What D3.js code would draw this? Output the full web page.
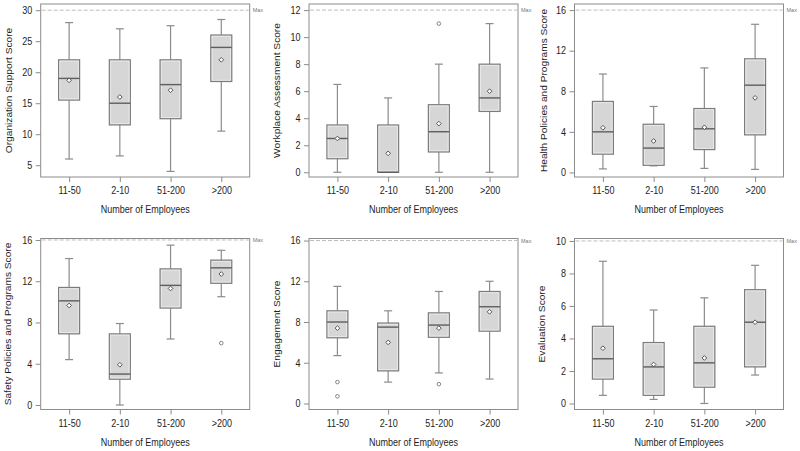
<!DOCTYPE html>
<html>
<head>
<meta charset="utf-8">
<script src="https://cdn.jsdelivr.net/npm/d3@7"></script>
<style>
  body { margin: 0; background: #fff; }
  svg { display: block; font-family: "Liberation Sans", Arial, sans-serif; }
</style>
</head>
<body>
<svg id="chart" width="800" height="451"></svg>
<script>
// categories on every x axis
var categories = ["11-50", "2-10", "51-200", ">200"];

var titles = [
  "Organization Support Score", "Workplace Assessment Score", "Health Policies and Programs Score",
  "Safety Policies and Programs Score", "Engagement Score", "Evaluation Score"
];
var maxScores = [30, 12, 16, 16, 16, 10];
var yTicks = [
  [5, 10, 15, 20, 25, 30],
  [0, 2, 4, 6, 8, 10, 12],
  [0, 4, 8, 12, 16],
  [0, 4, 8, 12, 16],
  [0, 4, 8, 12, 16],
  [0, 2, 4, 6, 8, 10]
];

// [whisker low, q1, median, q3, whisker high, mean] per category
var orgSupport   = [[6, 15.5, 19, 22, 28, 18.7], [6.5, 11.5, 15, 22, 27, 16], [4, 12.5, 18, 22, 27.5, 17.1], [10.5, 18.5, 24, 26, 28.5, 22]];
var workplace    = [[0, 1, 2.5, 3.5, 6.5, 2.5], [0, 0, 0, 3.5, 5.5, 1.4], [0, 1.5, 3, 5, 8, 3.6], [0, 4.5, 5.5, 8, 11, 6]];
var healthPol    = [[0.35, 1.8, 4, 7, 9.7, 4.4], [0.65, 0.7, 2.4, 4.75, 6.5, 3.1], [0.4, 2.25, 4.3, 6.3, 10.3, 4.45], [0.3, 3.7, 8.6, 11.2, 14.6, 7.35]];
var safetyPol    = [[4.4, 6.9, 10.1, 11.4, 14.2, 9.65], [0, 2.5, 3, 6.9, 7.9, 3.9], [6.4, 9.4, 11.6, 13.2, 15.5, 11.3], [10.5, 11.8, 13.3, 14.05, 15, 12.7]];
var engagement   = [[4.7, 6.45, 8, 9.1, 11.5, 7.4], [2.1, 3.2, 7.5, 7.9, 9.1, 6], [3, 6.5, 7.7, 8.9, 11, 7.4], [2.4, 7.1, 9.5, 11, 12, 9]];
var evaluation   = [[0.5, 1.5, 2.75, 4.75, 8.75, 3.4], [0.25, 0.5, 2.25, 3.75, 5.75, 2.4], [0, 1, 2.5, 4.75, 6.5, 2.8], [1.75, 2.25, 5, 7, 8.5, 5]];

// outliers per category
var orgOutliers    = [[], [], [], []];
var workOutliers   = [[], [], [11], []];
var healthOutliers = [[], [], [], []];
var safetyOutliers = [[], [], [], [6]];
var engageOutliers = [[2.1, 0.7], [], [1.9], []];
var evalOutliers   = [[], [], [], []];

var panelStats = [orgSupport, workplace, healthPol, safetyPol, engagement, evaluation];
var panelOutliers = [orgOutliers, workOutliers, healthOutliers, safetyOutliers, engageOutliers, evalOutliers];

// layout (frame positions per panel and y domains)
var colX = [40.7, 309, 574.5];
var frameW = 209;
var rows = [[4, 177], [238.5, 409.5]];
var yDomains = [[3.1, 31], [-0.35, 12.45], [-0.45, 16.6], [-0.436, 16.145], [-0.59, 16.2], [-0.37, 10.15]];
var titleX = [[11.5, 280, 546.5], [11, 280, 545]];
var fs = 9, stretch = 1.13;   // the source text is a bit taller than wide
var ink = "#1e1e1e";

var svg = d3.select("#chart");
var boxW = 21, capW = 8;

panelStats.forEach(function(stats, i) {
    var col = i % 3, row = Math.floor(i / 3);
    var x0 = colX[col], x1 = x0 + frameW;
    var y0 = rows[row][0], y1 = rows[row][1];

    var x = d3.scalePoint().domain(categories).range([x0, x1]).padding(0.56);
    var y = d3.scaleLinear().domain(yDomains[i]).range([y1, y0]);

    var g = svg.append("g");

    // frame
    g.append("rect")
        .attr("x", x0).attr("y", y0)
        .attr("width", x1 - x0).attr("height", y1 - y0)
        .attr("fill", "none").attr("stroke", "#8c8c8c").attr("stroke-width", 1);

    // max reference line
    g.append("line")
        .attr("x1", x0 + 1).attr("x2", x1 - 1)
        .attr("y1", y(maxScores[i])).attr("y2", y(maxScores[i]))
        .attr("stroke", "#bdbdbd").attr("stroke-width", 1)
        .attr("stroke-dasharray", "4,2");
    g.append("text")
        .attr("x", x1 + 3).attr("y", y(maxScores[i]) + 2)
        .attr("font-size", 5.5).attr("fill", "#777")
        .text("Max");

    // axes
    var ax = g.append("g")
        .attr("transform", "translate(" + x0 + ",0)")
        .call(d3.axisLeft(y).tickValues(yTicks[i]).tickSize(5).tickSizeOuter(0).tickPadding(3.4));
    var bx = g.append("g")
        .attr("transform", "translate(0," + y1 + ")")
        .call(d3.axisBottom(x).tickSize(5).tickSizeOuter(0).tickPadding(4));
    [ax, bx].forEach(function(a) {
        a.select(".domain").remove();
        a.selectAll(".tick line").attr("stroke", "#8c8c8c");
        a.selectAll(".tick text").attr("fill", ink).attr("font-size", fs)
            .attr("transform", "scale(1," + stretch + ")")
            .attr("font-family", "\"Liberation Sans\", Arial, sans-serif");
    });

    // axis titles
    g.append("text")
        .attr("transform", "translate(" + titleX[row][col] + "," + ((y0 + y1) / 2) + ") scale(1," + stretch + ") rotate(-90)")
        .attr("text-anchor", "middle")
        .attr("font-size", fs).attr("fill", ink)
        .text(titles[i]);
    g.append("text")
        .attr("transform", "translate(" + ((x0 + x1) / 2) + "," + (y1 + 36) + ") scale(1," + stretch + ")")
        .attr("text-anchor", "middle")
        .attr("font-size", fs).attr("fill", ink)
        .text("Number of Employees");

    // boxes
    var box = g.selectAll(".box").data(stats).enter().append("g").attr("class", "box");
    box.append("line") // whisker high
        .attr("x1", function(d, j) { return x(categories[j]); })
        .attr("x2", function(d, j) { return x(categories[j]); })
        .attr("y1", function(d) { return y(d[4]); })
        .attr("y2", function(d) { return y(d[3]); })
        .attr("stroke", "#8c8c8c").attr("stroke-width", 1.2);
    box.append("line") // whisker low
        .attr("x1", function(d, j) { return x(categories[j]); })
        .attr("x2", function(d, j) { return x(categories[j]); })
        .attr("y1", function(d) { return y(d[1]); })
        .attr("y2", function(d) { return y(d[0]); })
        .attr("stroke", "#8c8c8c").attr("stroke-width", 1.2);
    [0, 4].forEach(function(k) {
        box.append("line") // caps
            .attr("x1", function(d, j) { return x(categories[j]) - capW / 2; })
            .attr("x2", function(d, j) { return x(categories[j]) + capW / 2; })
            .attr("y1", function(d) { return y(d[k]); })
            .attr("y2", function(d) { return y(d[k]); })
            .attr("stroke", "#8c8c8c").attr("stroke-width", 1.2);
    });
    box.append("rect")
        .attr("x", function(d, j) { return x(categories[j]) - boxW / 2; })
        .attr("y", function(d) { return y(d[3]); })
        .attr("width", boxW)
        .attr("height", function(d) { return Math.max(0.5, y(d[1]) - y(d[3])); })
        .attr("fill", "#d6d6d6").attr("stroke", "#7c7c7c").attr("stroke-width", 1.2);
    box.append("rect") // light inner edge
        .attr("x", function(d, j) { return x(categories[j]) - boxW / 2 + 1.3; })
        .attr("y", function(d) { return y(d[3]) + 1.3; })
        .attr("width", boxW - 2.6)
        .attr("height", function(d) { return Math.max(0, y(d[1]) - y(d[3]) - 2.6); })
        .attr("fill", "none").attr("stroke", "#ececec").attr("stroke-width", 0.8);
    box.append("line") // median
        .attr("x1", function(d, j) { return x(categories[j]) - boxW / 2; })
        .attr("x2", function(d, j) { return x(categories[j]) + boxW / 2; })
        .attr("y1", function(d) { return y(d[2]); })
        .attr("y2", function(d) { return y(d[2]); })
        .attr("stroke", "#5e5e5e").attr("stroke-width", 1.4);
    box.append("path") // mean diamond
        .attr("d", d3.symbol(d3.symbolDiamond2, 14)())
        .attr("transform", function(d, j) { return "translate(" + x(categories[j]) + "," + y(d[5]) + ")"; })
        .attr("fill", "#fff").attr("stroke", "#555").attr("stroke-width", 1);

    // outliers
    var outs = [];
    panelOutliers[i].forEach(function(list, j) {
        list.forEach(function(v) { outs.push({ c: categories[j], v: v }); });
    });
    g.selectAll(".out").data(outs).enter().append("circle")
        .attr("cx", function(d) { return x(d.c); })
        .attr("cy", function(d) { return y(d.v); })
        .attr("r", 1.8)
        .attr("fill", "#fff").attr("stroke", "#777").attr("stroke-width", 0.9);
});
</script>
</body>
</html>
